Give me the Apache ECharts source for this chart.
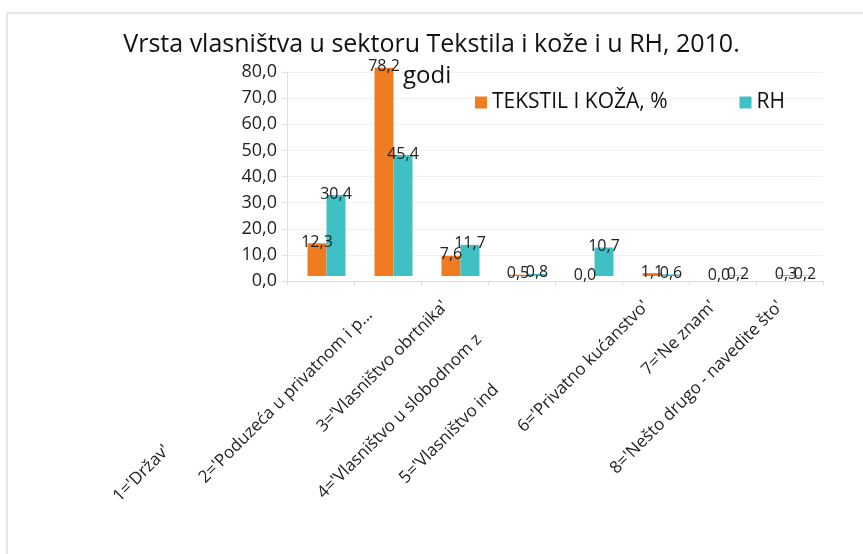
<!DOCTYPE html>
<html>
<head>
<meta charset="utf-8">
<script src="https://cdn.jsdelivr.net/npm/echarts@6/dist/echarts.min.js"></script>
<style>
  html, body { margin: 0; padding: 0; background: #fff; }
  #chart { width: 863px; height: 554px; }
</style>
</head>
<body>
<div id="chart"></div>
<script>
// podaci s grafa
var categories = [
  "1='Državno'",
  "2='Poduzeća u privatnom i p...",
  "3='Vlasništvo obrtnika'",
  "4='Vlasništvo u slobodnom z",
  "5='Vlasništvo ind",
  "6='Privatno kućanstvo'",
  "7='Ne znam'",
  "8='Nešto drugo - navedite što'"
];
var shortLabels = ["1='Držav'", null, null, null, null, null, null, null];
var tekstilValues = [12.3, 78.2, 7.6, 0.5, 0.0, 1.1, 0.0, 0.3];
var rhValues = [30.4, 45.4, 11.7, 0.8, 10.7, 0.6, 0.2, 0.2];
var seriesNames = ['TEKSTIL I KOŽA, %', 'RH'];

// labels in the scan are pushed down-left by different amounts
var labelShift = [204, 12, 0, 47, 118, 0, 0, 0];

function fmt(v) {
  return Number(v).toFixed(1).replace('.', ',');
}

var richStyles = {};
labelShift.forEach(function (s, i) {
  richStyles['p' + i] = { fontSize: 17, color: '#222', padding: [0, s, 0, 0], fontFamily: 'Open Sans' };
});

var valueLabel = {
  show: true,
  position: 'top',
  offset: [0, 12],
  fontSize: 16,
  color: '#222',
  formatter: function (p) { return fmt(p.value); }
};

var chart = echarts.init(document.getElementById('chart'));
var option = {
  backgroundColor: '#fff',
  animation: false,
  textStyle: { fontFamily: 'Open Sans' },
  title: [
    {
      text: 'Vrsta vlasništva u sektoru Tekstila i kože i u RH, 2010.',
      left: 'center',
      top: 27,
      textStyle: { fontSize: 25, fontWeight: 'normal', color: '#111' }
    },
    {
      text: 'godi',
      left: 398,
      top: 59,
      textStyle: { fontSize: 24, fontWeight: 'normal', color: '#111' }
    }
  ],
  legend: {
    left: 470,
    top: 87,
    itemWidth: 12,
    itemHeight: 12,
    itemGap: 72,
    icon: 'rect',
    textStyle: { fontSize: 21, color: '#111' },
    data: seriesNames
  },
  // grid 0 = osi s oznakama, grid 1 = stražnji zid 3D grafa gdje stoje stupci
  grid: [
    { left: 287, right: 40, top: 72, bottom: 273 },
    { left: 293, right: 34, top: 63, bottom: 278 }
  ],
  xAxis: [
    {
      type: 'category',
      gridIndex: 0,
      data: categories,
      axisLine: { lineStyle: { color: '#ddd' } },
      axisTick: { show: true, length: 4, lineStyle: { color: '#ddd' } },
      axisLabel: {
        rotate: 45,
        interval: 0,
        margin: 32,
        padding: [0, 0, 26, 0],
        formatter: function (val, idx) {
          var t = shortLabels[idx] || val;
          return '{p' + idx + '|' + t + '}';
        },
        rich: richStyles
      }
    },
    {
      type: 'category',
      gridIndex: 1,
      data: categories,
      show: false
    }
  ],
  yAxis: [
    {
      type: 'value',
      gridIndex: 0,
      min: 0,
      max: 80,
      interval: 10,
      axisLine: { show: true, lineStyle: { color: '#e6dcdc' } },
      axisTick: { show: true, length: 5, lineStyle: { color: '#e6dcdc' } },
      axisLabel: {
        fontSize: 18,
        color: '#222',
        margin: 10,
        formatter: fmt
      },
      splitLine: { lineStyle: { color: '#f1f1f1' } }
    },
    {
      type: 'value',
      gridIndex: 1,
      min: 0,
      max: 80,
      interval: 10,
      show: false,
      splitLine: { show: false }
    }
  ],
  series: [
    {
      name: seriesNames[0],
      type: 'bar',
      xAxisIndex: 1,
      yAxisIndex: 1,
      data: tekstilValues,
      barWidth: 19,
      barGap: '0%',
      itemStyle: { color: '#F07C22' },
      label: valueLabel
    },
    {
      name: seriesNames[1],
      type: 'bar',
      xAxisIndex: 1,
      yAxisIndex: 1,
      data: rhValues,
      barWidth: 19,
      itemStyle: { color: '#3EC0C4' },
      label: valueLabel
    }
  ],
  graphic: [
    { type: 'line', shape: { x1: 7, y1: 13, x2: 7, y2: 554 }, style: { stroke: '#ddd', lineWidth: 1.5 } },
    { type: 'line', shape: { x1: 7, y1: 13, x2: 863, y2: 13 }, style: { stroke: '#ddd', lineWidth: 1.5 } }
  ]
};
chart.setOption(option);
</script>
</body>
</html>
